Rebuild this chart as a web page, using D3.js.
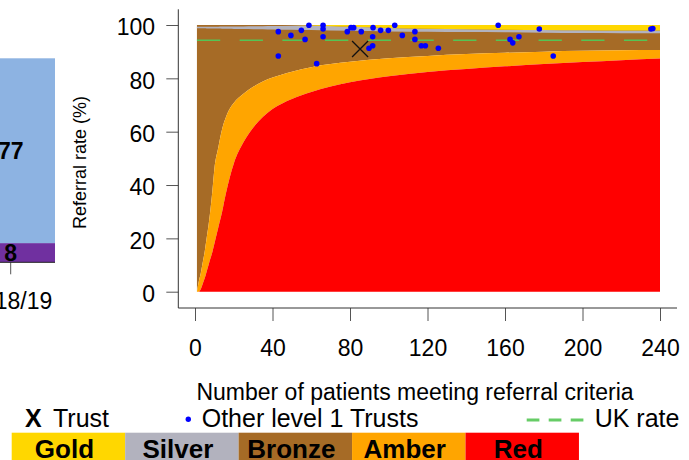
<!DOCTYPE html>
<html lang="en">

<head>
    <meta charset="UTF-8" />
    <title>Referral rate funnel</title>
    <style>
        body {
            margin: 0;
            background: #fff;
        }

        svg {
            display: block;
            font-family: "Liberation Sans", Arial, sans-serif;
        }
    </style>
</head>

<body>
    <div id="container"></div>
</body>
<script src="https://cdnjs.cloudflare.com/ajax/libs/d3/7.8.5/d3.min.js"></script>
<script>
    // left bar chart (cut off by the frame)
    const barYears = ["2018/19"];
    const barPurple = [8];
    const barBlue = [77];

    // funnel bands at these patient counts
    const bandN = [1, 2, 3, 4, 5, 6, 7, 8, 9, 10, 12, 14, 16, 18, 20, 25, 30, 35, 40, 50, 60, 80, 100, 120, 140, 160, 180, 200, 220, 240];
    const redUpper = [0, 0, 1, 3, 5, 7.5, 10, 12.5, 15, 18, 24, 30, 37, 43, 48, 56, 61.5, 65.5, 68.5, 72.3, 74.9, 78.5, 80.8, 82.4, 83.5, 84.5, 85.4, 86.1, 86.8, 87.4];
    const amberUpper = [0, 4, 7, 11, 15, 20, 25, 31, 38, 46, 54, 61, 65.5, 68.7, 70.8, 74.2, 76.8, 78.8, 80.3, 82.5, 84.2, 86.2, 87.5, 88.4, 89.1, 89.6, 90, 90.3, 90.5, 90.6];
    const silverLower = [98.75, 98.75, 98.75, 98.75, 98.75, 98.7, 98.7, 98.7, 98.7, 98.7, 98.65, 98.6, 98.6, 98.55, 98.5, 98.5, 98.45, 98.4, 98.3, 98.2, 98.1, 97.8, 97.6, 97.5, 97.4, 97.3, 97.1, 97.0, 96.95, 96.9];
    const silverUpper = [99.35, 99.35, 99.35, 99.35, 99.35, 99.35, 99.35, 99.35, 99.35, 99.35, 99.35, 99.4, 99.4, 99.4, 99.4, 99.45, 99.5, 99.55, 99.6, 99.75, 99.8, 99.3, 98.9, 98.6, 98.4, 98.2, 98.1, 98.0, 97.9, 97.9];
    const goldLower = [100, 100, 100, 100, 100, 100, 100, 100, 100, 100, 100, 100, 100, 100, 100, 100, 100, 100, 100, 100, 99.8, 99.3, 98.9, 98.6, 98.4, 98.2, 98.1, 98.0, 97.9, 97.9];

    // trusts
    const otherN = [43, 43, 49.5, 54.9, 56.8, 58.8, 62.8, 66.1, 66.1, 66.1, 78.6, 80.5, 81.9, 85.8, 89.8, 91.7, 91.7, 91.9, 95.8, 99.8, 103.1, 107, 113.5, 113.5, 116.8, 118.9, 125.6, 156.5, 162.6, 164, 167.2, 177.7, 184.9, 235.3, 236.3];
    const otherRate = [97.5, 88.4, 96.1, 98, 94.6, 99.9, 85.5, 99.9, 98.5, 95.6, 97.5, 99, 99, 97.5, 91.3, 92.2, 95.6, 99, 98, 98, 99.9, 96.1, 97.5, 94.6, 92.2, 92.2, 91.3, 99.9, 94.6, 93.3, 95.6, 98.5, 88.4, 98.5, 98.7];
    const trustN = [85.2];
    const trustRate = [91];
    const ukRate = 94.3;

    const xTicks = [0, 40, 80, 120, 160, 200, 240];
    const yTicks = [0, 20, 40, 60, 80, 100];
    const bandNames = ["Gold", "Silver", "Bronze", "Amber", "Red"];

    // colours
    const col = {
        gold: "#ffd700", silver: "#b2b2be", bronze: "#a66b26", amber: "#ffa500", red: "#ff0000",
        blue: "#0000ff", uk: "#55c455", barBlue: "#8db3e2", barPurple: "#7030a0"
    };
    const bandColors = [col.gold, col.silver, col.bronze, col.amber, col.red];

    let svg = d3.select("#container").append("svg").attr("width", 689).attr("height", 460);

    // ---------- left bar chart ----------
    let xb = d3.scaleBand().domain(barYears).range([-33.6, 55]);
    let yb = d3.scaleLinear().domain([0, 100]).range([262.3, 22.3]);
    let bars = svg.append("g");
    bars.selectAll(".pur").data(barYears).enter().append("rect")
        .attr("x", d => xb(d)).attr("width", xb.bandwidth())
        .attr("y", (d, i) => yb(barPurple[i])).attr("height", (d, i) => yb(0) - yb(barPurple[i]))
        .attr("fill", col.barPurple);
    bars.selectAll(".blu").data(barYears).enter().append("rect")
        .attr("x", d => xb(d)).attr("width", xb.bandwidth())
        .attr("y", (d, i) => yb(barPurple[i] + barBlue[i])).attr("height", (d, i) => yb(barPurple[i]) - yb(barPurple[i] + barBlue[i]))
        .attr("fill", col.barBlue);
    bars.selectAll(".lb1").data(barYears).enter().append("text")
        .attr("x", d => xb(d) + xb.bandwidth() / 2)
        .attr("y", (d, i) => yb(barPurple[i] + barBlue[i] / 2)).attr("dy", "0.36em")
        .attr("text-anchor", "middle").attr("font-size", 23).attr("font-weight", "bold")
        .text((d, i) => barBlue[i]);
    bars.selectAll(".lb2").data(barYears).enter().append("text")
        .attr("x", d => xb(d) + xb.bandwidth() / 2)
        .attr("y", (d, i) => yb(barPurple[i] / 2)).attr("dy", "0.36em")
        .attr("text-anchor", "middle").attr("font-size", 23).attr("font-weight", "bold")
        .text((d, i) => barPurple[i]);
    let barAxis = bars.append("g").attr("transform", "translate(0,262.3)")
        .call(d3.axisBottom(xb).tickSize(12).tickPadding(18));
    barAxis.select(".domain").remove();
    barAxis.append("line").attr("x1", 0).attr("x2", 55).attr("stroke", "#222");
    barAxis.selectAll(".tick line").attr("stroke", "#444");
    barAxis.selectAll("text").attr("font-size", 23).attr("fill", "#000").attr("font-family", null);

    // ---------- funnel plot ----------
    let x = d3.scaleLinear().domain([0, 240]).range([195, 660]);
    let y = d3.scaleLinear().domain([0, 100]).range([291.7, 25]);

    let bandArea = (lo, hi) => d3.area()
        .x((d, i) => x(bandN[i]))
        .y0((d, i) => y(lo[i]))
        .y1((d, i) => y(hi[i]))
        .curve(d3.curveMonotoneX)(bandN);
    let full = bandN.map(() => 100);
    let zero = bandN.map(() => 0);

    let bands = svg.append("g");
    bands.append("path").attr("d", bandArea(amberUpper, full)).attr("fill", col.bronze);
    bands.append("path").attr("d", bandArea(silverLower, silverUpper)).attr("fill", col.silver);
    bands.append("path").attr("d", bandArea(goldLower, full)).attr("fill", col.gold);
    bands.append("path").attr("d", bandArea(redUpper, amberUpper)).attr("fill", col.amber);
    bands.append("path").attr("d", bandArea(zero, redUpper)).attr("fill", col.red);

    // UK rate
    svg.append("line")
        .attr("x1", x(1)).attr("x2", x(240))
        .attr("y1", y(ukRate)).attr("y2", y(ukRate))
        .attr("stroke", col.uk).attr("stroke-width", 1.4).attr("stroke-dasharray", "23.3,19.4");

    // other trusts
    svg.append("g").selectAll("circle").data(otherN).enter().append("circle")
        .attr("cx", d => x(d)).attr("cy", (d, i) => y(otherRate[i]))
        .attr("r", 2.8).attr("fill", col.blue);

    // this trust
    let tr = svg.append("g").selectAll("g").data(trustN).enter().append("g")
        .attr("transform", (d, i) => `translate(${x(d)},${y(trustRate[i])})`);
    tr.append("path").attr("d", "M-8,-8L8,8M-8,8L8,-8").attr("stroke", "#111").attr("stroke-width", 1.3);

    // axes
    let xAxis = svg.append("g").attr("transform", "translate(0,308)")
        .call(d3.axisBottom(x).tickValues(xTicks).tickSize(13).tickPadding(19));
    xAxis.select(".domain").remove();
    xAxis.append("line").attr("x1", 178.3).attr("x2", 677).attr("stroke", "#333");
    let yAxis = svg.append("g").attr("transform", "translate(178.3,0)")
        .call(d3.axisLeft(y).tickValues(yTicks).tickSize(12).tickPadding(11.3));
    yAxis.select(".domain").remove();
    yAxis.append("line").attr("y1", 9.3).attr("y2", 308).attr("stroke", "#333");
    svg.selectAll(".tick line").attr("stroke", "#555");
    xAxis.selectAll("text").attr("font-size", 23).attr("fill", "#000").attr("font-family", null);
    yAxis.selectAll("text").attr("font-size", 23).attr("fill", "#000").attr("font-family", null).attr("dy", "0.43em");

    svg.append("text").attr("transform", "translate(85.6,162.5) rotate(-90)")
        .attr("text-anchor", "middle").attr("font-size", 18).text("Referral rate (%)");
    svg.append("text").attr("x", 415).attr("y", 400)
        .attr("text-anchor", "middle").attr("font-size", 23).text("Number of patients meeting referral criteria");

    // ---------- legend ----------
    let lg = svg.append("g").attr("font-size", 25);
    lg.append("text").attr("x", 25).attr("y", 427.3).attr("font-weight", "bold").text("X");
    lg.append("text").attr("x", 53).attr("y", 427.3).text("Trust");
    lg.append("circle").attr("cx", 188.3).attr("cy", 419.3).attr("r", 2.7).attr("fill", col.blue);
    lg.append("text").attr("x", 201.7).attr("y", 427.3).text("Other level 1 Trusts");
    lg.append("line").attr("x1", 526.7).attr("x2", 584.7).attr("y1", 420).attr("y2", 420)
        .attr("stroke", "#66cc66").attr("stroke-width", 3).attr("stroke-dasharray", "12.7,9.3");
    lg.append("text").attr("x", 594.7).attr("y", 427.3).text("UK rate");

    let boxW = 113.45;
    let key = svg.append("g").selectAll("g").data(bandNames).enter().append("g")
        .attr("transform", (d, i) => `translate(${11.7 + i * boxW},432.7)`);
    key.append("rect").attr("width", boxW).attr("height", 30).attr("fill", (d, i) => bandColors[i]);
    key.append("text").attr("x", boxW / 2 - 4).attr("y", 25.3)
        .attr("text-anchor", "middle").attr("font-size", 26).attr("font-weight", "bold").text(d => d);
</script>

</html>
